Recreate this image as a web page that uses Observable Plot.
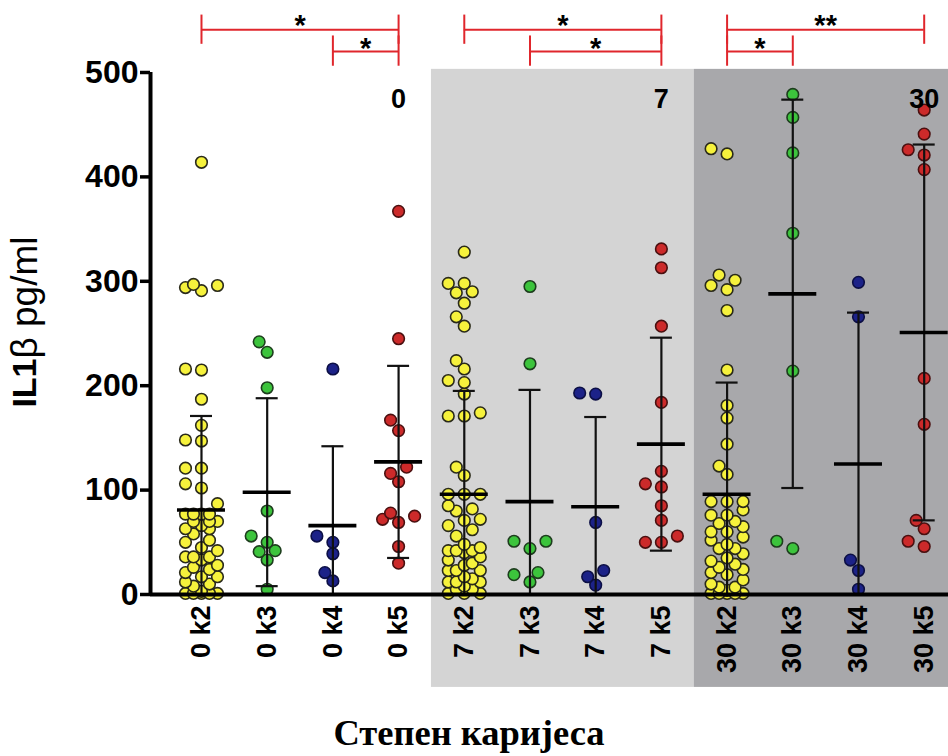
<!DOCTYPE html>
<html>
<head>
<meta charset="utf-8">
<script src="https://cdn.jsdelivr.net/npm/d3@7"></script>
<script src="https://cdn.jsdelivr.net/npm/@observablehq/plot@0.6"></script>
<style>
  body { margin: 0; background: #fff; }
  #wrap { position: relative; width: 948px; height: 756px; overflow: hidden; }
  #title {
    position: absolute; left: 0; top: 715px; width: 938px; text-align: center;
    font-family: "Liberation Serif", "Times New Roman", serif; font-weight: bold;
    font-size: 36.5px; line-height: 36px; color: #000;
  }
</style>
</head>
<body>
<div id="wrap"><div id="chart"></div><div id="title">Степен каријеса</div></div>
<script>
// ---- data ----
const groups = ["0 k2","0 k3","0 k4","0 k5","7 k2","7 k3","7 k4","7 k5","30 k2","30 k3","30 k4","30 k5"];
const groupDay = ["0","0","0","0","7","7","7","7","30","30","30","30"];
const groupGrade = ["k2","k3","k4","k5","k2","k3","k4","k5","k2","k3","k4","k5"];
const days = ["0","7","30"];

const v0k2 = [414,294,296,291,297,215,216,187,162,147,148,121,121,106,102,87,77,77,77,77,70,70,70,66,63,63,58,52,50,45,42,36,36,36,33,28,26,24,21,17,17,12,10,8,3,1,1,1,1,1];
const v0k3 = [242,232,198,80,56,50,42,41,33,5];
const v0k4 = [216,56,50,39,21,13];
const v0k5 = [367,245,167,157,122,116,108,78,75,72,69,46,30];
const v7k2 = [328,298,298,290,289,279,266,257,224,216,205,203,192,174,171,171,122,114,96,96,96,85,82,80,72,71,66,62,56,48,45,42,42,42,40,36,33,30,28,23,23,23,17,15,12,12,12,8,5,5,1,1,1];
const v7k3 = [295,221,51,51,44,21,19,12];
const v7k4 = [193,192,69,23,17,9];
const v7k5 = [331,313,257,184,118,106,103,85,71,56,50,50];
const v30k2 = [427,422,306,301,296,292,272,215,181,169,144,123,115,89,89,89,81,76,76,70,68,65,60,60,55,52,48,44,44,39,35,32,29,26,24,21,19,14,10,7,7,4,1,1,1,1,1];
const v30k3 = [479,457,423,346,214,51,44];
const v30k4 = [299,266,33,23,5];
const v30k5 = [464,441,426,421,407,207,163,71,63,51,46];
const groupValues = [v0k2,v0k3,v0k4,v0k5,v7k2,v7k3,v7k4,v7k5,v30k2,v30k3,v30k4,v30k5];

const means = [81,98,66,127,96,89,84,144,96,288,125,251];
const sds   = [90,90,76,92,99,107,86,102,107,186,145,180];

const yTicks = [0,100,200,300,400,500];

const bracketFrom  = ["0 k2","0 k4","7 k2","7 k3","30 k2","30 k2"];
const bracketTo    = ["0 k5","0 k5","7 k5","7 k5","30 k5","30 k3"];
const bracketStars = ["*","*","*","*","**","*"];
const bracketLevel = [0,1,0,1,0,1];

// ---- styling / layout ----
const gradeFill   = {k2: "#f6f23c", k3: "#3cc43c", k4: "#1c2288", k5: "#cc2a2a"};
const gradeStroke = {k2: "#2a2a1a", k3: "#1d3d1d", k4: "#0c0f45", k5: "#4a1010"};
const dayFill = {"0": "none", "7": "#d4d4d4", "30": "#a8a8ab"};
const FONT = '"Liberation Sans", Arial, Helvetica, sans-serif';

const xDomain = [-0.776, 11.37];
const PXX = 65.7;          // px per group step (matches domain/range below)
const PXY = 522 / 500;     // px per y unit

// beeswarm-like offsets (GraphPad style scatter)
function swarm(vals, gi) {
  const pts = vals.map(v => ({v, gi, grade: groupGrade[gi]})).sort((a, b) => a.v - b.v);
  const placed = [];
  const cands = [0, -8, 8, -16, 16];
  const D = 11;
  for (const p of pts) {
    const py = p.v * PXY;
    let best = 0, bestD = -1;
    for (const c of cands) {
      let m = Infinity;
      for (const q of placed) m = Math.min(m, Math.hypot(q.px - c, q.py - py));
      if (m >= D) { best = c; bestD = m; break; }
      if (m > bestD) { bestD = m; best = c; }
    }
    p.px = best; p.py = py; placed.push(p);
  }
  return pts;
}
const points = groupValues.flatMap((vals, gi) => swarm(vals, gi));

const stats = groups.map((g, i) => ({gi: i, mean: means[i], sd: sds[i], lo: means[i] - sds[i], hi: means[i] + sds[i]}));

const bands = days.map(d => {
  const idx = groups.map((g, i) => i).filter(i => groupDay[i] === d);
  return {day: d, x1: idx[0] - 0.5, x2: idx[idx.length - 1] + 0.5, k5: idx[idx.length - 1]};
});

const brackets = bracketFrom.map((f, i) => ({
  a: groups.indexOf(f), b: groups.indexOf(bracketTo[i]), stars: bracketStars[i], level: bracketLevel[i]
}));
const lvY   = [541, 520];       // bracket bar height (data units, above frame)
const lvTop = [555, 535];
const lvBot = [527, 506];
const lvStar = [536, 514];

const capHalf = 11 / PXX, meanHalf = 24 / PXX;

const chart = Plot.plot({
  width: 948,
  height: 700,
  marginLeft: 150,
  marginRight: 0,
  marginTop: 72,
  marginBottom: 106,
  x: {domain: xDomain, axis: null},
  y: {domain: [0, 500], axis: null},
  style: {fontFamily: FONT, background: "white", color: "#000"},
  marks: [
    Plot.rect(bands.filter(d => d.day !== "0"), {x1: "x1", x2: "x2", y1: -89, y2: 503, fill: d => dayFill[d.day]}),
    Plot.dot(points, {x: d => d.gi + d.px / PXX, y: "v", r: 5.8, fill: d => gradeFill[d.grade], stroke: d => gradeStroke[d.grade], strokeWidth: 1.6}),
    Plot.ruleX(stats, {x: "gi", y1: d => Math.max(0, d.lo), y2: "hi", strokeWidth: 2.2, stroke: "#111"}),
    Plot.ruleY(stats, {y: "hi", x1: d => d.gi - capHalf, x2: d => d.gi + capHalf, strokeWidth: 2.2, stroke: "#111"}),
    Plot.ruleY(stats.filter(d => d.lo > 0), {y: "lo", x1: d => d.gi - capHalf, x2: d => d.gi + capHalf, strokeWidth: 2.2, stroke: "#111"}),
    Plot.ruleY(stats, {y: "mean", x1: d => d.gi - meanHalf, x2: d => d.gi + meanHalf, strokeWidth: 3.6, stroke: "#000"}),
    // axes
    Plot.ruleY([0], {strokeWidth: 4, stroke: "#000"}),
    Plot.ruleX([xDomain[0]], {y1: 0, y2: 500, strokeWidth: 4, stroke: "#000"}),
    Plot.axisY({ticks: yTicks, tickSize: 10, tickPadding: 2, strokeWidth: 3.5, fontSize: 32, fontWeight: "bold", label: null}),
    Plot.text(groups, {x: (d, i) => i, y: 0, text: d => d, rotate: -90, textAnchor: "end", lineAnchor: "middle", dy: 11, fontSize: 27, fontWeight: "bold"}),
    // day labels
    Plot.text(bands, {x: "k5", y: 474, text: "day", fontSize: 27, fontWeight: "bold", lineAnchor: "middle"}),
    // y label
    Plot.text(["IL1"], {frameAnchor: "left", dx: -125, y: 179, rotate: -90, textAnchor: "start", lineAnchor: "middle", fontSize: 34, fontWeight: "bold"}),
    Plot.text(["β pg/ml"], {frameAnchor: "left", dx: -125, y: 226, rotate: -90, textAnchor: "start", lineAnchor: "middle", fontSize: 37}),
    // significance brackets
    Plot.ruleY(brackets, {y: d => lvY[d.level], x1: "a", x2: "b", stroke: "#e0262c", strokeWidth: 2}),
    Plot.ruleX(brackets, {x: "a", y1: d => lvBot[d.level], y2: d => lvTop[d.level], stroke: "#e0262c", strokeWidth: 2}),
    Plot.ruleX(brackets, {x: "b", y1: d => lvBot[d.level], y2: d => lvTop[d.level], stroke: "#e0262c", strokeWidth: 2}),
    Plot.text(brackets, {x: d => (d.a + d.b) / 2, y: d => lvStar[d.level], text: "stars", lineAnchor: "bottom", fontSize: 29, fontWeight: "bold"})
  ]
});
document.getElementById("chart").appendChild(chart);
</script>
</body>
</html>
